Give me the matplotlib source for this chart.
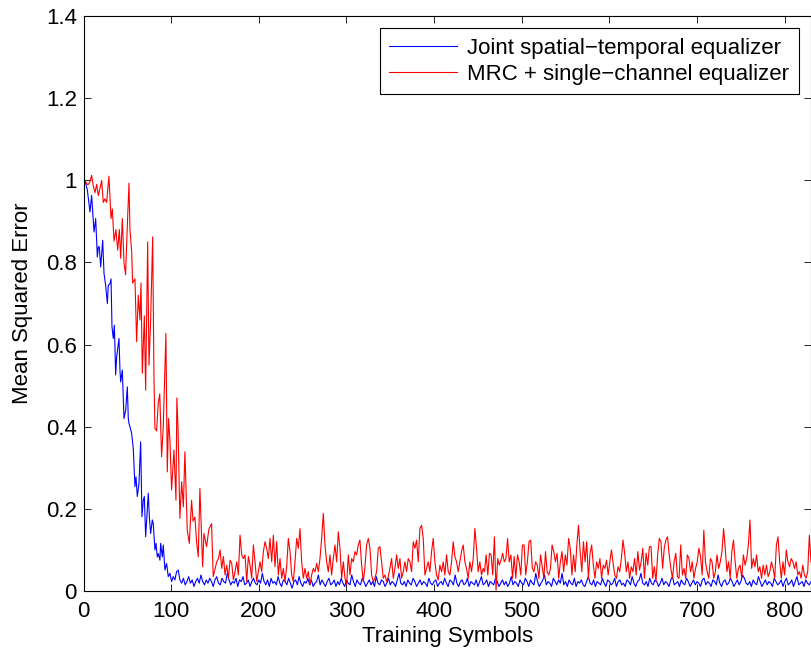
import matplotlib
matplotlib.use("Agg")
import matplotlib.pyplot as plt
from matplotlib.ticker import FuncFormatter
import numpy as np

plt.rcParams['font.family'] = ['Liberation Sans', 'DejaVu Sans']

# --- data --------------------------------------------------------------
labels = ["Joint spatial\u2212temporal equalizer",
          "MRC + single\u2212channel equalizer"]

# joint equalizer: convergence part (symbol, mse)
blue_head_x = [0, 1.7, 4.4, 7.4, 9.3, 12, 13.9, 15.8, 16.9, 18, 19.6, 20.7,
               21.9, 23.4, 25.3, 27.2, 28.3, 30.2, 31.4, 32.5, 34, 35.2, 36.7,
               37.8, 39, 40.5, 41.6, 42.4, 44.3, 46.2, 48.1, 50, 51.1, 51.9,
               53, 54.9, 56.8, 58.7, 59.9, 61.4, 63.3, 65.2, 66.7, 68.2, 69.4,
               70.9, 72.8, 73.9, 75.1, 76.6, 78.5, 79.6, 81.5, 82.7, 84.2,
               85.3, 87.2, 88, 89.9, 91, 92.9, 94.8, 96.7, 98.6, 100.5, 102.4,
               104.3, 106.2, 108.1]
blue_head_y = [1.0, 1.0, 0.976, 0.923, 0.963, 0.874, 0.907, 0.813, 0.838,
               0.838, 0.789, 0.821, 0.854, 0.773, 0.744, 0.70, 0.744, 0.748,
               0.76, 0.643, 0.615, 0.647, 0.526, 0.57, 0.59, 0.615, 0.538,
               0.509, 0.538, 0.42, 0.44, 0.497, 0.42, 0.408, 0.40, 0.384,
               0.347, 0.254, 0.278, 0.23, 0.262, 0.363, 0.181, 0.221, 0.23,
               0.132, 0.197, 0.238, 0.181, 0.14, 0.173, 0.164, 0.10, 0.116,
               0.083, 0.091, 0.075, 0.116, 0.083, 0.112, 0.051, 0.067, 0.035,
               0.043, 0.023, 0.035, 0.027, 0.047, 0.051]
# joint equalizer: steady state, one value every 2 symbols from 110 to 830
blue_floor = [
    .027, .019, .031, .015, .023, .035, .019, .027, .011, .023, .031, .019,
    .039, .023, .015, .027, .019, .031, .023, .011, .027, .035, .019, .015,
    .031, .023, .019, .043, .027, .015, .023, .019, .031, .011, .027, .023,
    .035, .015, .019, .027, .011, .023, .031, .019, .015, .027,
    .019, .043, .023, .015, .027, .011, .031, .019, .023, .015, .035, .019,
    .011, .027, .023, .015, .031, .019, .007, .023, .027, .015, .035, .019,
    .011, .023, .019, .031, .015, .027, .011, .019, .023, .039, .015, .027,
    .019, .011, .023, .031, .015, .019, .027, .011, .023, .015, .031, .019,
    .011, .027,
    .019, .015, .039, .023, .011, .027, .019, .015, .031, .023, .011, .019,
    .027, .015, .023, .011, .035, .019, .015, .027, .023, .011, .019, .031,
    .015, .023, .019, .011, .027, .043, .019, .015, .023, .011, .027, .019,
    .015, .031, .023, .011, .019, .027, .015, .023, .019, .011, .031, .019,
    .015, .023,
    .027, .011, .019, .023, .015, .031, .019, .011, .027, .023, .015, .039,
    .019, .011, .023, .027, .015, .019, .031, .011, .023, .019, .015, .027,
    .011, .023, .035, .015, .019, .027, .011, .023, .019, .015, .031, .023,
    .011, .019, .027, .015, .023, .011, .019, .035, .015, .023, .019, .011,
    .027, .019,
    .015, .031, .023, .011, .027, .019, .015, .043, .023, .011, .019, .027,
    .039, .015, .023, .019, .011, .031, .023, .015, .027, .019, .043, .015,
    .023, .011, .027, .019, .015, .031, .011, .023, .019, .027, .015, .011,
    .023, .035, .019, .015, .027, .011, .023, .019, .015, .031, .019, .011,
    .027, .023,
    .015, .019, .031, .011, .023, .027, .015, .019, .011, .027, .023, .015,
    .035, .019, .011, .023, .027, .043, .019, .015, .023, .011, .031, .019,
    .015, .027, .023, .011, .019, .031, .015, .023, .019, .011, .027, .035,
    .015, .019, .023, .011, .027, .019, .015, .031, .023, .011, .019, .027,
    .015, .023,
    .019, .011, .027, .031, .015, .023, .019, .011, .027, .023, .015, .039,
    .019, .011, .023, .027, .015, .019, .031, .023, .011, .019, .027, .015,
    .023, .039, .031, .019, .015, .023, .011, .027, .019, .015, .035, .023,
    .011, .019, .027, .015, .023, .019, .011, .031, .023, .015, .019, .027,
    .011, .023, .031, .015, .019, .027, .011, .023, .035, .015, .019, .023,
    .011, .027, .019, .015, .023]

# MRC: convergence part (symbol, mse)
red_head_x = [0, 1.7, 4, 5.5, 7, 9.3, 11.2, 13.1, 15, 16.9, 18.8, 20.7, 22.6,
              24.5, 26.4, 29, 31.4, 32.9, 34.8, 37, 39, 40.9, 42.4, 44.3,
              46.2, 48, 50, 51.9, 53, 55, 56, 58.7, 60.6, 62.5, 64.4, 65.6,
              67.1, 69.4, 70.9, 73.2, 74.7, 76.6, 78.9, 80.4, 81.5, 83.4,
              85.3, 87, 89.1, 91, 94, 95.6, 97, 98.6, 100.5, 103.2, 105.5,
              106.5, 107.8, 110, 112, 113.9, 115.7, 118.4, 120.7, 123.3, 125,
              127.1, 129, 130.9, 132.8, 135.9, 137.4, 140.4, 143, 146.1, 148]
red_head_y = [1.0, 1.0, 0.99, 0.99, 0.995, 1.012, 0.986, 0.97, 0.99, 0.963,
              0.98, 1.0, 0.946, 0.955, 0.946, 1.01, 0.907, 0.93, 0.852, 0.88,
              0.83, 0.88, 0.81, 0.907, 0.80, 0.77, 0.89, 0.993, 0.88, 0.825,
              0.75, 0.76, 0.607, 0.72, 0.66, 0.75, 0.53, 0.67, 0.489, 0.85,
              0.55, 0.66, 0.862, 0.52, 0.396, 0.39, 0.457, 0.48, 0.327, 0.40,
              0.627, 0.29, 0.42, 0.367, 0.246, 0.343, 0.221, 0.47, 0.40, 0.177,
              0.266, 0.205, 0.339, 0.148, 0.116, 0.221, 0.17, 0.18, 0.12,
              0.083, 0.25, 0.059, 0.14, 0.108, 0.15, 0.164, 0.035]
# MRC: steady state, first stretch (symbols 152 to 456)
red_floor_a = [
    .071, .079, .100, .055, .084, .039, .063, .031, .075, .067, .027, .047,
    .071, .039, .136, .088, .079, .088, .023, .084, .063, .031, .112, .071,
    .023, .047, .071, .047, .096, .120, .104, .079, .128, .071, .136, .059,
    .120, .039, .079, .031, .055, .023, .059, .128, .096, .039, .023, .071,
    .128, .104, .152, .071, .031, .055, .031, .047, .015, .039, .055, .047,
    .067, .047, .079, .128, .189, .112, .071, .047, .088, .039, .079, .112,
    .071, .144, .104, .031, .071, .031, .015, .088, .039, .079, .071, .096,
    .088, .112, .124, .063, .023, .059, .112, .128, .104, .039, .023, .031,
    .047, .104, .108, .071, .031, .039, .023, .035, .055, .079, .031, .055,
    .088, .055, .079, .031, .047, .071, .047, .079, .071, .047, .120, .104,
    .124, .071, .152, .160, .128, .039, .055, .071, .047, .096, .128, .071,
    .039, .027, .063, .047, .071, .039, .088, .047, .039, .071, .120, .084,
    .071, .047, .071, .096, .112, .071, .055, .031, .071, .047, .079, .152,
    .104, .047, .071, .039, .055]
# MRC: steady state, second stretch (symbols 457 to 830)
red_floor_b = [
    .047, .088, .039, .092, .088, .039, .132, .002, .079, .063, .075, .092,
    .071, .079, .128, .071, .088, .031, .084, .031, .088, .071, .039, .112,
    .112, .039, .071, .120, .124, .055, .047, .071, .063, .031, .088, .059,
    .031, .096, .047, .039, .055, .112, .096, .071, .092, .031, .071, .096,
    .047, .088, .063, .128, .104, .039, .088, .047, .112, .160, .096, .047,
    .120, .071, .120, .031, .092, .112, .063, .031, .071, .055, .079, .031,
    .063, .055, .075, .039, .071, .100, .067, .039, .031, .059, .047, .079,
    .124, .092, .047, .071, .031, .059, .047, .079, .039, .096, .051, .071,
    .104, .031, .092, .063, .108, .108, .031, .059, .023, .088, .128, .120,
    .055, .104, .124, .132, .088, .055, .031, .071, .092, .035, .031, .112,
    .039, .055, .031, .088, .079, .047, .071, .031, .055, .071, .104, .084,
    .039, .148, .071, .047, .031, .079, .071, .031, .047, .088, .055, .071,
    .096, .152, .104, .047, .071, .031, .096, .124, .071, .031, .055, .063,
    .031, .088, .063, .079, .112, .173, .055, .079, .059, .088, .047, .059,
    .031, .063, .039, .063, .035, .047, .071, .055, .031, .112, .132, .071,
    .031, .071, .039, .100, .071, .059, .079, .071, .055, .071, .039, .047,
    .031, .063, .039, .031, .047, .136, .071]

# --- assemble series ----------------------------------------------------
blue_x = np.concatenate([blue_head_x, np.linspace(110, 830, len(blue_floor))])
blue_y = np.concatenate([blue_head_y, blue_floor])
red_x = np.concatenate([red_head_x,
                        np.linspace(152, 456, len(red_floor_a)),
                        np.linspace(457.5, 830, len(red_floor_b))])
red_y = np.concatenate([red_head_y, red_floor_a, red_floor_b])

# --- figure ---------------------------------------------------------------
W, H = 811, 654
fig = plt.figure(figsize=(W / 100, H / 100), dpi=100)
left, bottom, top = 83.5, 63, 16
ax = fig.add_axes([left / W, bottom / H, 1 - left / W, (H - bottom - top) / H])

ax.plot(blue_x, blue_y, color=(0, 0, 1), lw=0.8, label=labels[0])
ax.plot(red_x, red_y, color=(1, 0, 0), lw=0.8, label=labels[1])

ax.set_xlim(0, 830)
ax.set_ylim(0, 1.4)
ax.set_xticks(np.arange(0, 801, 100))
ax.set_yticks(np.arange(0, 1.41, 0.2))
ax.yaxis.set_major_formatter(FuncFormatter(lambda v, p: "%g" % round(v, 2)))
ax.tick_params(direction='in', top=True, right=True, length=5, width=0.6,
               labelsize=16, pad=4.7)
ax.tick_params(axis='x', pad=7)
for s in ax.spines.values():
    s.set_linewidth(0.8)

ax.set_xlabel("Training Symbols", fontsize=16, labelpad=3)
ax.set_ylabel("Mean Squared Error", fontsize=16, labelpad=9)

leg = ax.legend(loc='upper right', fontsize=16, handlelength=3.06,
                borderaxespad=0.55, fancybox=False, framealpha=1,
                edgecolor='black', borderpad=0.42, labelspacing=0.25,
                handletextpad=0.45)
leg.get_frame().set_linewidth(0.8)

fig.savefig("out.png", dpi=100)
